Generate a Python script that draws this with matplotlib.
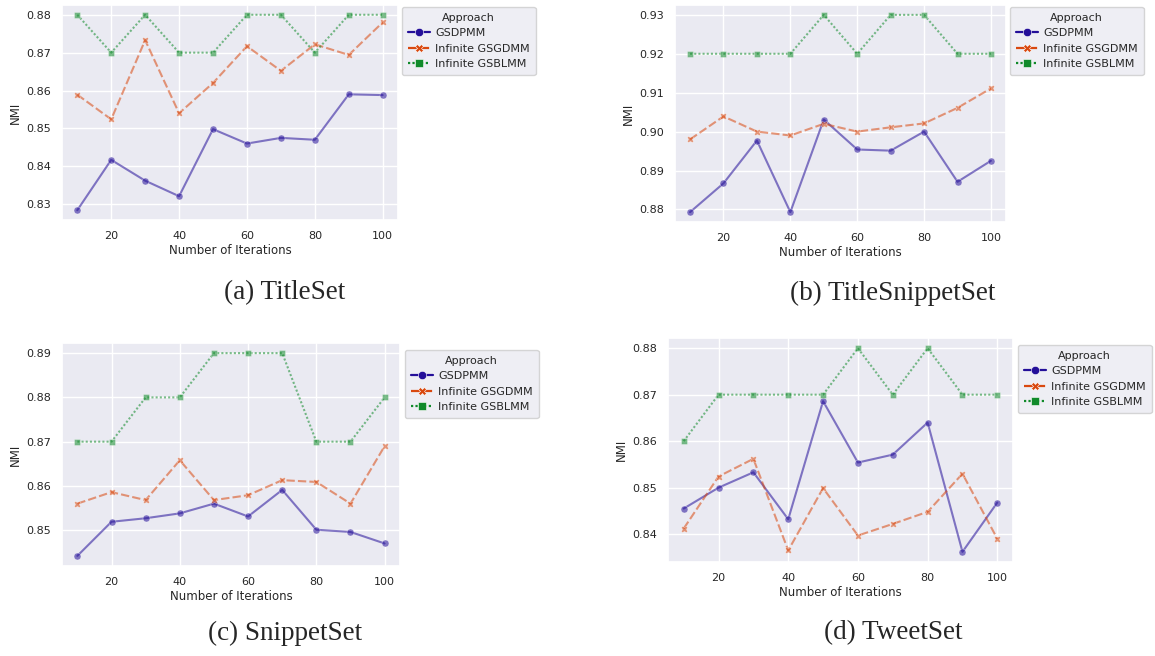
import matplotlib
matplotlib.use("Agg")
import matplotlib.pyplot as plt
from matplotlib.lines import Line2D
import seaborn as sns

iterations = [10, 20, 30, 40, 50, 60, 70, 80, 90, 100]
approaches = ["GSDPMM", "Infinite GSGDMM", "Infinite GSBLMM"]
captions = ["(a) TitleSet", "(b) TitleSnippetSet", "(c) SnippetSet", "(d) TweetSet"]

# NMI values per dataset: GSDPMM, Infinite GSGDMM, Infinite GSBLMM
title_gsdpmm = [0.8284, 0.8417, 0.8362, 0.8321, 0.8498, 0.8460, 0.8475, 0.8470, 0.8590, 0.8588]
title_gsgdmm = [0.8589, 0.8524, 0.8733, 0.8540, 0.8620, 0.8717, 0.8652, 0.8722, 0.8694, 0.8780]
title_gsblmm = [0.88, 0.87, 0.88, 0.87, 0.87, 0.88, 0.88, 0.87, 0.88, 0.88]

tsnip_gsdpmm = [0.8793, 0.8867, 0.8977, 0.8793, 0.9031, 0.8954, 0.8951, 0.9000, 0.8871, 0.8925]
tsnip_gsgdmm = [0.8980, 0.9039, 0.9000, 0.8990, 0.9020, 0.9000, 0.9011, 0.9021, 0.9061, 0.9111]
tsnip_gsblmm = [0.92, 0.92, 0.92, 0.92, 0.93, 0.92, 0.93, 0.93, 0.92, 0.92]

snip_gsdpmm = [0.8442, 0.8519, 0.8527, 0.8538, 0.8560, 0.8531, 0.8591, 0.8501, 0.8496, 0.8470]
snip_gsgdmm = [0.8560, 0.8586, 0.8568, 0.8658, 0.8568, 0.8579, 0.8613, 0.8609, 0.8560, 0.8690]
snip_gsblmm = [0.87, 0.87, 0.88, 0.88, 0.89, 0.89, 0.89, 0.87, 0.87, 0.88]

tweet_gsdpmm = [0.8455, 0.8500, 0.8533, 0.8432, 0.8686, 0.8554, 0.8571, 0.8640, 0.8362, 0.8468]
tweet_gsgdmm = [0.8412, 0.8524, 0.8562, 0.8365, 0.8499, 0.8397, 0.8422, 0.8448, 0.8530, 0.8390]
tweet_gsblmm = [0.86, 0.87, 0.87, 0.87, 0.87, 0.88, 0.87, 0.88, 0.87, 0.87]

datasets = [
    (title_gsdpmm, title_gsgdmm, title_gsblmm),
    (tsnip_gsdpmm, tsnip_gsgdmm, tsnip_gsblmm),
    (snip_gsdpmm, snip_gsgdmm, snip_gsblmm),
    (tweet_gsdpmm, tweet_gsgdmm, tweet_gsblmm),
]

sns.set_theme(style="darkgrid")
plt.rcParams['font.family'] = ['DejaVu Sans']

colors = ['#240f99', '#d9480f', '#108a2a']
markers = ['o', 'X', 's']
dashes = [(None, None), (4, 1.5), (1, 1)]

W, H = 1155, 656
fig = plt.figure(figsize=(W / 100, H / 100), dpi=100)

# axes boxes in pixels: left, top, right, bottom
boxes = [(62, 5, 398, 220), (675, 5, 1006, 222), (62, 343, 400, 566), (668, 338, 1013, 562)]
legend_pos = [(402, 7), (1010, 7), (405, 350), (1018, 345)]
caption_pos = [(285, 293), (893, 293), (285, 633), (893, 633)]

for i, series in enumerate(datasets):
    l, t, r, b = boxes[i]
    ax = fig.add_axes([l / W, 1 - b / H, (r - l) / W, (b - t) / H])
    for j, vals in enumerate(series):
        line, = ax.plot(iterations, vals, color=colors[j], marker=markers[j],
                        markersize=5, linewidth=1.5, alpha=0.55,
                        markeredgecolor='white', markeredgewidth=0.4)
        if dashes[j][0] is not None:
            line.set_dashes(dashes[j])
    ax.set_xticks([20, 40, 60, 80, 100])
    ax.tick_params(labelsize=8, pad=2)
    ax.yaxis.set_major_formatter(plt.FormatStrFormatter('%.2f'))
    ax.set_xlabel("Number of Iterations", fontsize=8.5, labelpad=2)
    ax.set_ylabel("NMI", fontsize=8.5, labelpad=3)

    handles = []
    for j in range(3):
        h = Line2D([], [], color=colors[j], marker=markers[j], markersize=6,
                   linewidth=1.6, markeredgecolor='white', markeredgewidth=0.4)
        if dashes[j][0] is not None:
            h.set_dashes(dashes[j])
        handles.append(h)
    lx, ly = legend_pos[i]
    fig.legend(handles=handles, labels=approaches, title="Approach",
               loc='upper left', bbox_to_anchor=(lx / W, 1 - ly / H),
               borderaxespad=0, fontsize=8, title_fontsize=8, handlelength=2,
               borderpad=0.5, labelspacing=0.5, handletextpad=0.5)

    cx, cy = caption_pos[i]
    fig.text(cx / W, 1 - cy / H, captions[i], ha='center', va='center',
             fontsize=19.5, family='Liberation Serif')

fig.savefig("out.png", dpi=100, facecolor='white')
